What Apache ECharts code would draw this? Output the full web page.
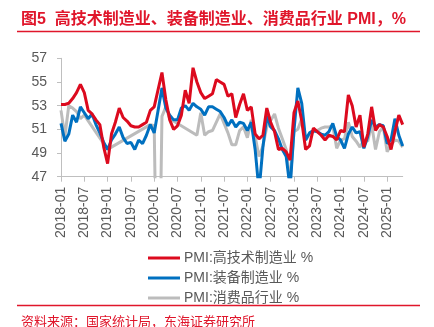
<!DOCTYPE html>
<html><head><meta charset="utf-8">
<script src="https://cdn.jsdelivr.net/npm/echarts@6/dist/echarts.min.js"></script>
<style>html,body{margin:0;padding:0;background:#fff}#c{width:434px;height:327px}</style>
</head><body><div id="c"></div>
<script>
// categories: monthly from 2018-01 to 2025-05
const startYear = 2018, monthCount = 89;
const months = [];
for (let i = 0; i < monthCount; i++) {
  const y = startYear + Math.floor(i / 12), m = (i % 12) + 1;
  months.push(y + '-' + (m < 10 ? '0' + m : m));
}
const yTicks = [47, 49, 51, 53, 55, 57];

const seriesNames = ['PMI:高技术制造业 %', 'PMI:装备制造业 %', 'PMI:消费品行业 %'];

const hiTech = [
  53.1, 53.1, 53.2, 53.6, 54.1, 54.8, 54.1, 52.6, 52.3, 51.8, 51.4, 49.5,
  48.1, 50.6, 51.6, 52.8, 52.0, 51.7, 51.3, 51.2, 51.2, 51.4, 51.6, 52.6,
  52.9, null, 55.8, 53.5, 51.8, 51.0, 51.3, 52.2, 54.3, 53.2, 56.2, 55.0,
  54.1, 53.6, 53.8, 54.0, 55.2, 55.0, 54.8, 53.8, 54.0, 52.0, 53.1, 54.0,
  52.6, 52.9, 50.6, 50.2, 50.5, 52.8, 51.6, 50.8, 49.3, 49.4, 49.1, 48.4,
  52.4, 53.4, 51.7, 49.3, 49.6, 51.1, 50.8, 50.5, 50.1, 50.5, 50.4, 50.1,
  50.9, 50.8, 53.9, 53.0, 51.2, 52.2, 49.5, 50.6, 52.9, 50.9, 51.4, 51.2,
  50.4, 49.3, 50.8, 52.2, 51.4
];
const equipment = [
  51.5, 50.0, 50.6, 52.2, 51.6, 52.9, 52.4, 51.9, 52.3, 51.4, 50.7, 49.9,
  49.3, 50.1, 50.6, 51.2, 50.3, 49.8, 49.9, 49.3, 50.1, 49.8, 50.5, 51.4,
  50.7, null, 54.5, 52.8, 52.2, 51.8, 51.8, 52.8, 53.0, 52.6, 53.2, 52.9,
  52.7, 52.2, 52.9, 52.9, 52.7, 52.5, 52.0, 51.3, 51.8, 51.2, 51.6, 51.5,
  50.9, 51.6, 49.3, 45.8, 49.5, 52.1, 51.2, 50.9, 50.2, 49.3, 48.7, 46.0,
  50.9, 54.5, 53.2, 50.1, 50.7, 50.9, 50.8, 50.6, 50.5, 50.8, 51.5, 50.4,
  50.1, 49.4, 50.6, 51.2, 50.7, 50.8, 49.4, 50.4, 51.8, 51.2, 51.4, 51.3,
  49.8, 50.1, 51.9, 50.5, 49.6
];
const consumer = [
  52.6, 50.4, 53.0, 52.8, 52.5, 51.9, 52.2, null, null, null, null, null,
  49.3, 49.5, null, null, null, null, null, null, null, null, null, 51.4,
  51.3, 30.0, 52.1, 52.9, 51.9, null, null, null, null, null, null, 50.5,
  52.4, 50.5, 50.8, 50.9, null, 52.3, 51.5, 50.7, 49.7, 49.7, 50.9, 51.2,
  50.3, 51.8, 50.4, 48.7, 49.6, 51.2, null, 52.3, 51.1, 50.2, 49.3, 46.5,
  50.8, 51.0, 51.9, 50.1, 50.6, 50.8, 50.9, 51.1, 51.2, 51.2, 51.3, 49.4,
  50.1, 50.2, 51.6, 50.4, 50.0, 49.5, 50.1, 50.0, 51.4, 49.3, 50.8, 51.2,
  49.1, 49.7, 50.1, 50.0, 49.5
];

const colors = ['#dc0a1e', '#0070c0', '#bcbcbc'];
const FONT = "'Liberation Sans', 'Noto Sans CJK SC', sans-serif";
const red = '#e0162b';

const chart = echarts.init(document.getElementById('c'), null, {renderer: 'canvas'});
const mk = (name, data, i) => ({
  name, type: 'line', data, showSymbol: false, symbol: 'none',
  connectNulls: true, clip: true,
  lineStyle: {width: 3, color: colors[i]}, itemStyle: {color: colors[i]},
  z: 10 - i
});
chart.setOption({
  animation: false,
  textStyle: {fontFamily: FONT},
  title: [
    {text: '图5  高技术制造业、装备制造业、消费品行业 PMI，%', left: 16, top: 7,
     textStyle: {color: red, fontSize: 16, fontWeight: 'bold', fontFamily: FONT}},
    {text: '资料来源：国家统计局，东海证券研究所', left: 16, top: 311,
     textStyle: {color: red, fontSize: 13, fontWeight: 'normal', fontFamily: FONT}}
  ],
  graphic: [
    {type: 'line', shape: {x1: 17, y1: 31.5, x2: 420, y2: 31.5}, style: {stroke: red, lineWidth: 1.5}},
    {type: 'line', shape: {x1: 17, y1: 305.5, x2: 420, y2: 305.5}, style: {stroke: red, lineWidth: 1.5}}
  ],
  legend: {
    orient: 'vertical', left: 143, top: 246, itemWidth: 32, itemHeight: 3, itemGap: 6,
    icon: 'rect',
    textStyle: {color: '#595959', fontSize: 14, fontFamily: FONT, padding: [0, 0, 0, -1]},
    data: seriesNames
  },
  grid: {left: 61, right: 31.3, top: 58.3, bottom: 150.3, containLabel: false},
  xAxis: {
    type: 'category', data: months, boundaryGap: false,
    axisLine: {lineStyle: {color: '#bfbfbf', width: 1}},
    axisTick: {show: true, interval: 5, length: 5, lineStyle: {color: '#bfbfbf'}},
    axisLabel: {interval: 5, rotate: 90, margin: 10, color: '#595959', fontSize: 14, fontFamily: FONT},
    splitLine: {show: false}
  },
  yAxis: {
    type: 'value', min: yTicks[0], max: yTicks[yTicks.length - 1], interval: 2,
    axisLine: {show: true, lineStyle: {color: '#bfbfbf', width: 1}},
    axisTick: {show: true, length: 4, lineStyle: {color: '#bfbfbf'}},
    axisLabel: {color: '#595959', fontSize: 14, margin: 14, fontFamily: FONT},
    splitLine: {show: false}
  },
  series: [
    mk(seriesNames[0], hiTech, 0),
    mk(seriesNames[1], equipment, 1),
    mk(seriesNames[2], consumer, 2)
  ]
});
</script></body></html>
